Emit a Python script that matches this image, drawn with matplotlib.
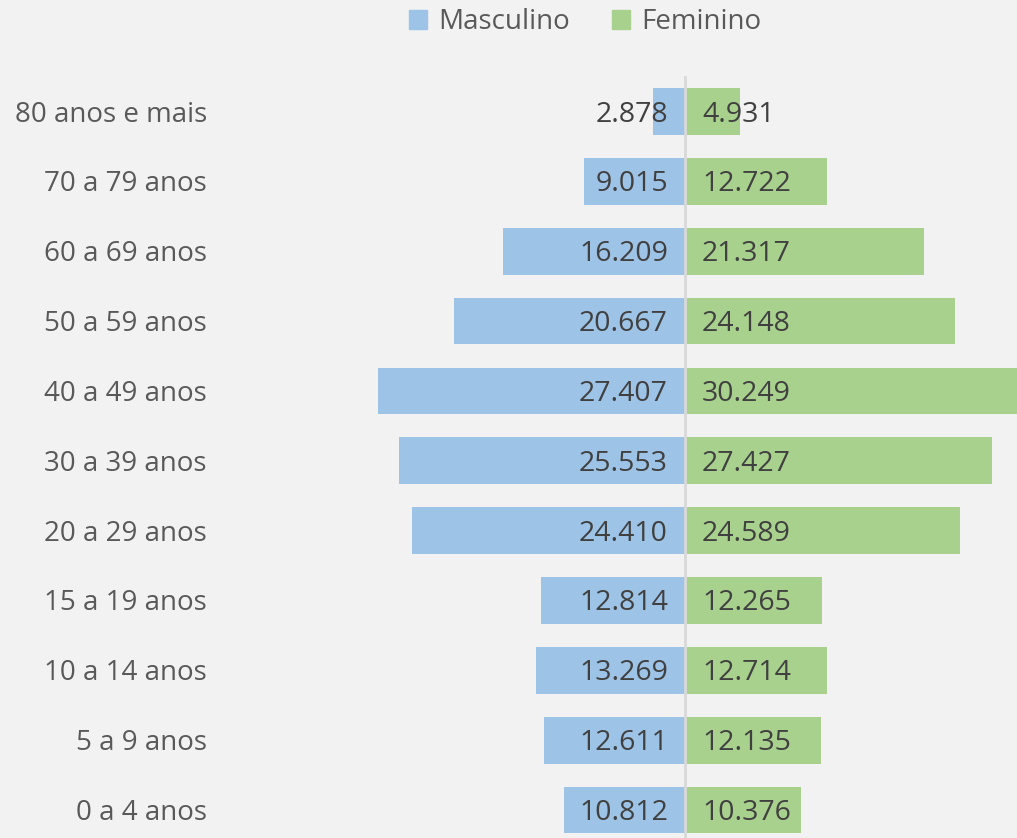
import matplotlib
matplotlib.use('Agg')
import matplotlib.pyplot as plt
from matplotlib.patches import Patch

categorias = ['0 a 4 anos', '5 a 9 anos', '10 a 14 anos', '15 a 19 anos', '20 a 29 anos',
              '30 a 39 anos', '40 a 49 anos', '50 a 59 anos', '60 a 69 anos', '70 a 79 anos',
              '80 anos e mais']
masculino = [10812, 12611, 13269, 12814, 24410, 25553, 27407, 20667, 16209, 9015, 2878]
feminino = [10376, 12135, 12714, 12265, 24589, 27427, 30249, 24148, 21317, 12722, 4931]

plt.rcParams['font.family'] = ['Open Sans', 'DejaVu Sans']

W, H = 1017, 838
px_unit = 11.2      # pixels per 1000 people
cx = 685            # x of the centre line
row0 = 28           # row 0 centre, px from bottom
step = 69.85

fig = plt.figure(figsize=(W / 100, H / 100), dpi=100)
fig.patch.set_facecolor('#f2f2f2')
ax = fig.add_axes([0, 0, 1, 1])
ax.set_facecolor('#f2f2f2')
ax.set_xlim(-cx / px_unit, (W - cx) / px_unit)
ax.set_ylim(-row0 / step, (H - row0) / step)
ax.axis('off')

y = list(range(len(categorias)))
m = [-v / 1000 for v in masculino]
f = [v / 1000 for v in feminino]
ax.barh(y, m, height=0.67, color='#9dc3e6', zorder=2)
ax.barh(y, f, height=0.67, color='#a9d18e', zorder=2)
ax.plot([0, 0], [-row0 / step, (H - 77 - row0) / step], color='#d9d9d9', lw=2, zorder=3)

def fmt(v):
    return f'{v:,}'.replace(',', '.')

off = 17 / px_unit
dy = 3 / step   # text sits a little below the bar centre
for i in y:
    ax.text(-off, i - dy, fmt(masculino[i]), ha='right', va='center', fontsize=20.5,
            color='#404040', zorder=4)
    ax.text(off, i - dy, fmt(feminino[i]), ha='left', va='center', fontsize=20.5,
            color='#404040', zorder=4)
    ax.text((207 - cx) / px_unit, i - dy, categorias[i], ha='right', va='center',
            fontsize=20, color='#595959')

handles = [Patch(color='#9dc3e6', label='Masculino'), Patch(color='#a9d18e', label='Feminino')]
fig.legend(handles=handles, loc='center', bbox_to_anchor=(585 / W, 1 - 22 / H), ncol=2,
           frameon=False, fontsize=20, labelcolor='#595959', handlelength=0.65,
           handleheight=0.65, handletextpad=0.4, columnspacing=1.5)

fig.savefig('out.png', dpi=100, facecolor=fig.get_facecolor())
